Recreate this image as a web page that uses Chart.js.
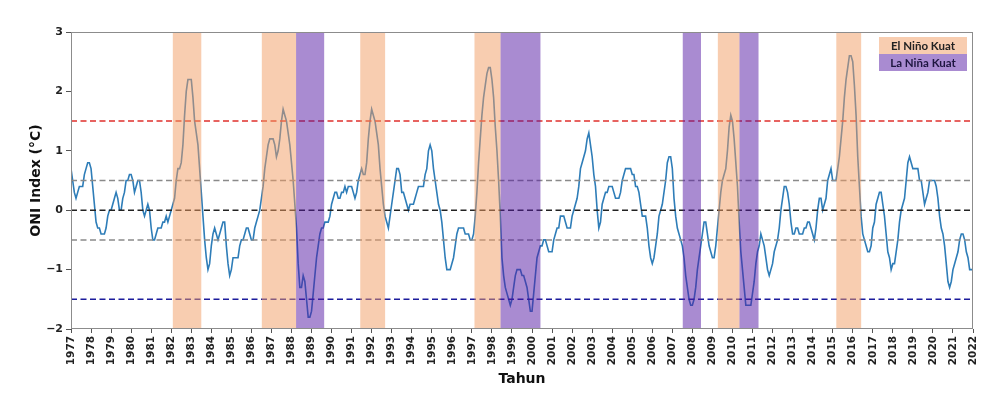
<!DOCTYPE html>
<html>
<head>
<meta charset="utf-8">
<script src="https://cdn.jsdelivr.net/npm/chart.js@4.4.0/dist/chart.umd.min.js"></script>
<style>
  html, body { margin: 0; padding: 0; background: #fff; }
  #wrap { width: 1001px; height: 403px; }
</style>
</head>
<body>
<div id="wrap"><canvas id="oniChart"></canvas></div>
<script>
// ONI, one value per month (Jan..Dec)
const startYear = 1977;
const oni1970s = [
  0.7, 0.5, 0.3, 0.2, 0.3, 0.4, 0.4, 0.4, 0.6, 0.7, 0.8, 0.8,
  0.7, 0.4, 0.1, -0.2, -0.3, -0.3, -0.4, -0.4, -0.4, -0.3, -0.1, 0.0,
  0.0, 0.1, 0.2, 0.3, 0.2, 0.0, 0.0, 0.2, 0.3, 0.5, 0.5, 0.6
];
const oni1980s = [
  0.6, 0.5, 0.3, 0.4, 0.5, 0.5, 0.3, 0.0, -0.1, 0.0, 0.1, 0.0,
  -0.3, -0.5, -0.5, -0.4, -0.3, -0.3, -0.3, -0.2, -0.2, -0.1, -0.2, -0.1,
  0.0, 0.1, 0.2, 0.5, 0.7, 0.7, 0.8, 1.1, 1.6, 2.0, 2.2, 2.2,
  2.2, 1.9, 1.5, 1.3, 1.1, 0.7, 0.3, -0.1, -0.5, -0.8, -1.0, -0.9,
  -0.6, -0.4, -0.3, -0.4, -0.5, -0.4, -0.3, -0.2, -0.2, -0.6, -0.9, -1.1,
  -1.0, -0.8, -0.8, -0.8, -0.8, -0.6, -0.5, -0.5, -0.4, -0.3, -0.3, -0.4,
  -0.5, -0.5, -0.3, -0.2, -0.1, 0.0, 0.2, 0.4, 0.7, 0.9, 1.1, 1.2,
  1.2, 1.2, 1.1, 0.9, 1.0, 1.2, 1.5, 1.7, 1.6, 1.5, 1.3, 1.1,
  0.8, 0.5, 0.1, -0.3, -0.9, -1.3, -1.3, -1.1, -1.2, -1.5, -1.8, -1.8,
  -1.7, -1.4, -1.1, -0.8, -0.6, -0.4, -0.3, -0.3, -0.2, -0.2, -0.2, -0.1
];
const oni1990s = [
  0.1, 0.2, 0.3, 0.3, 0.2, 0.2, 0.3, 0.3, 0.4, 0.3, 0.4, 0.4,
  0.4, 0.3, 0.2, 0.3, 0.5, 0.6, 0.7, 0.6, 0.6, 0.8, 1.2, 1.5,
  1.7, 1.6, 1.5, 1.3, 1.1, 0.7, 0.4, 0.1, -0.1, -0.2, -0.3, -0.1,
  0.1, 0.3, 0.5, 0.7, 0.7, 0.6, 0.3, 0.3, 0.2, 0.1, 0.0, 0.1,
  0.1, 0.1, 0.2, 0.3, 0.4, 0.4, 0.4, 0.4, 0.6, 0.7, 1.0, 1.1,
  1.0, 0.7, 0.5, 0.3, 0.1, 0.0, -0.2, -0.5, -0.8, -1.0, -1.0, -1.0,
  -0.9, -0.8, -0.6, -0.4, -0.3, -0.3, -0.3, -0.3, -0.4, -0.4, -0.4, -0.5,
  -0.5, -0.4, -0.1, 0.3, 0.8, 1.2, 1.6, 1.9, 2.1, 2.3, 2.4, 2.4,
  2.2, 1.9, 1.4, 1.0, 0.5, -0.1, -0.8, -1.1, -1.3, -1.4, -1.5, -1.6,
  -1.5, -1.3, -1.1, -1.0, -1.0, -1.0, -1.1, -1.1, -1.2, -1.3, -1.5, -1.7
];
const oni2000s = [
  -1.7, -1.4, -1.1, -0.8, -0.7, -0.6, -0.6, -0.5, -0.5, -0.6, -0.7, -0.7,
  -0.7, -0.5, -0.4, -0.3, -0.3, -0.1, -0.1, -0.1, -0.2, -0.3, -0.3, -0.3,
  -0.1, 0.0, 0.1, 0.2, 0.4, 0.7, 0.8, 0.9, 1.0, 1.2, 1.3, 1.1,
  0.9, 0.6, 0.4, 0.0, -0.3, -0.2, 0.1, 0.2, 0.3, 0.3, 0.4, 0.4,
  0.4, 0.3, 0.2, 0.2, 0.2, 0.3, 0.5, 0.6, 0.7, 0.7, 0.7, 0.7,
  0.6, 0.6, 0.4, 0.4, 0.3, 0.1, -0.1, -0.1, -0.1, -0.3, -0.6, -0.8,
  -0.9, -0.8, -0.6, -0.4, -0.1, 0.0, 0.1, 0.3, 0.5, 0.8, 0.9, 0.9,
  0.7, 0.2, -0.1, -0.3, -0.4, -0.5, -0.6, -0.8, -1.1, -1.3, -1.5, -1.6,
  -1.6, -1.5, -1.3, -1.0, -0.8, -0.6, -0.4, -0.2, -0.2, -0.4, -0.6, -0.7,
  -0.8, -0.8, -0.6, -0.3, 0.0, 0.3, 0.5, 0.6, 0.7, 1.0, 1.4, 1.6
];
const oni2010s = [
  1.5, 1.2, 0.8, 0.4, -0.2, -0.7, -1.0, -1.3, -1.6, -1.6, -1.6, -1.6,
  -1.4, -1.2, -0.9, -0.7, -0.6, -0.4, -0.5, -0.6, -0.8, -1.0, -1.1, -1.0,
  -0.9, -0.7, -0.6, -0.5, -0.3, 0.0, 0.2, 0.4, 0.4, 0.3, 0.1, -0.2,
  -0.4, -0.4, -0.3, -0.3, -0.4, -0.4, -0.4, -0.3, -0.3, -0.2, -0.2, -0.3,
  -0.4, -0.5, -0.3, 0.0, 0.2, 0.2, 0.0, 0.1, 0.2, 0.5, 0.6, 0.7,
  0.5, 0.5, 0.5, 0.7, 0.9, 1.2, 1.5, 1.9, 2.2, 2.4, 2.6, 2.6,
  2.5, 2.1, 1.6, 0.9, 0.4, -0.1, -0.4, -0.5, -0.6, -0.7, -0.7, -0.6,
  -0.3, -0.2, 0.1, 0.2, 0.3, 0.3, 0.1, -0.1, -0.4, -0.7, -0.8, -1.0,
  -0.9, -0.9, -0.7, -0.5, -0.2, 0.0, 0.1, 0.2, 0.5, 0.8, 0.9, 0.8,
  0.7, 0.7, 0.7, 0.7, 0.5, 0.5, 0.3, 0.1, 0.2, 0.3, 0.5, 0.5
];
const oni2020s = [
  0.5, 0.5, 0.4, 0.2, -0.1, -0.3, -0.4, -0.6, -0.9, -1.2, -1.3, -1.2,
  -1.0, -0.9, -0.8, -0.7, -0.5, -0.4, -0.4, -0.5, -0.7, -0.8, -1.0, -1.0,
  -1.0
];

// strong event periods (decimal years)
const elNinoStart = [1982.08, 1986.52, 1991.43, 1997.13, 2009.27, 2015.18];
const elNinoEnd   = [1983.50, 1988.23, 1992.67, 1998.43, 2010.35, 2016.42];
const laNinaStart = [1988.23, 1998.43, 2007.52, 2010.35];
const laNinaEnd   = [1989.63, 2000.42, 2008.43, 2011.30];

// threshold lines
const thresholdValues = [1.5, 0.5, 0, -0.5, -1.5];
const thresholdColors = ['#e0302c', '#8a8a8a', '#222222', '#8a8a8a', '#1c1c9c'];

const legendLabels = ['El Niño Kuat', 'La Niña Kuat'];
const xMin = 1977, xMax = 2022;

const oniValues = [].concat(oni1970s, oni1980s, oni1990s, oni2000s, oni2010s, oni2020s);
const oniPoints = oniValues.map((v, i) => ({ x: startYear + i / 12, y: v }));

const bandColors = { nino: 'rgba(241,155,97,0.5)', nina: 'rgba(83,23,163,0.5)' };
const legendColors = ['#f8cdb0', '#a98bd1'];

// shaded bands go on top of the lines, like axvspan with alpha
const bandPlugin = {
  id: 'bands',
  afterDatasetsDraw(chart) {
    const { ctx, chartArea, scales } = chart;
    ctx.save();
    ctx.beginPath();
    ctx.rect(chartArea.left, chartArea.top, chartArea.width, chartArea.height);
    ctx.clip();
    const drawBand = (s, e, color) => {
      const x0 = scales.x.getPixelForValue(s);
      const x1 = scales.x.getPixelForValue(e);
      ctx.fillStyle = color;
      ctx.fillRect(x0, chartArea.top, x1 - x0, chartArea.height);
    };
    elNinoStart.forEach((s, i) => drawBand(s, elNinoEnd[i], bandColors.nino));
    laNinaStart.forEach((s, i) => drawBand(s, laNinaEnd[i], bandColors.nina));
    ctx.restore();
  },
  afterDraw(chart) {
    const { ctx, chartArea } = chart;
    ctx.save();
    // frame
    ctx.strokeStyle = '#8c8c8c';
    ctx.lineWidth = 1;
    ctx.strokeRect(chartArea.left + 0.5, chartArea.top + 0.5, chartArea.width - 1, chartArea.height - 1);
    // legend boxes
    const w = 88, h = 17;
    const x = chartArea.right - 6 - w;
    let y = chartArea.top + 5;
    ctx.font = 'bold 11.5px Lato';
    ctx.textAlign = 'center';
    ctx.textBaseline = 'middle';
    legendLabels.forEach((label, i) => {
      ctx.fillStyle = legendColors[i];
      ctx.fillRect(x, y, w, h);
      ctx.fillStyle = i === 0 ? '#222' : '#1e1640';
      ctx.fillText(label, x + w / 2, y + h / 2 + 1);
      y += h;
    });
    ctx.restore();
  }
};

const datasets = [{
  data: oniPoints,
  borderColor: '#2e7db8',
  borderWidth: 1.6,
  pointRadius: 0,
  tension: 0,
  order: 2
}];
thresholdValues.forEach((v, i) => {
  datasets.push({
    data: [{ x: xMin, y: v }, { x: xMax, y: v }],
    borderColor: thresholdColors[i],
    borderWidth: 1.5,
    borderDash: [6, 3.5],
    pointRadius: 0,
    order: 1
  });
});

new Chart(document.getElementById('oniChart'), {
  type: 'line',
  data: { datasets },
  options: {
    responsive: true,
    maintainAspectRatio: false,
    animation: false,
    devicePixelRatio: 1,
    layout: { padding: { top: 32, right: 28, left: 0, bottom: 0 } },
    plugins: { legend: { display: false }, tooltip: { enabled: false } },
    scales: {
      x: {
        type: 'linear',
        min: xMin,
        max: xMax,
        afterFit: s => { s.height = 74; },
        border: { display: false },
        grid: { drawOnChartArea: false, tickLength: 4, color: '#555' },
        ticks: {
          stepSize: 1,
          autoSkip: false,
          minRotation: 90,
          maxRotation: 90,
          padding: 3,
          color: '#222',
          font: { family: 'DejaVu Sans', weight: 'bold', size: 10.5 },
          callback: v => String(v)
        },
        title: {
          display: true,
          text: 'Tahun',
          color: '#111',
          font: { family: 'DejaVu Sans', weight: 'bold', size: 14 },
          padding: { top: 0, bottom: 15 }
        }
      },
      y: {
        min: -2,
        max: 3,
        afterFit: s => { s.width = 71; },
        border: { display: false },
        grid: { drawOnChartArea: false, tickLength: 5, color: '#555' },
        ticks: {
          stepSize: 1,
          padding: 3,
          color: '#222',
          font: { family: 'DejaVu Sans', weight: 'bold', size: 11 },
          callback: v => (v < 0 ? '\u2212' + Math.abs(v) : String(v))
        },
        title: {
          display: true,
          text: 'ONI Index (°C)',
          color: '#111',
          font: { family: 'DejaVu Sans', weight: 'bold', size: 14 },
          padding: { top: 28, bottom: 0 }
        }
      }
    }
  },
  plugins: [bandPlugin]
});
</script>
</body>
</html>
